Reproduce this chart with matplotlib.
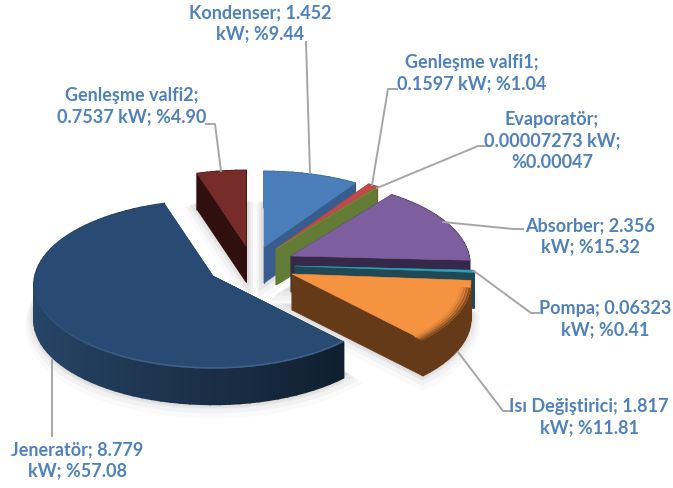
import numpy as np
from matplotlib import pyplot as plt
from matplotlib.colors import to_rgb
from matplotlib.patches import Polygon

names = ["Kondenser", "Genleşme valfi1", "Evaporatör", "Absorber", "Pompa",
         "Isı Değiştirici", "Jeneratör", "Genleşme valfi2"]
kw = [1.452, 0.1597, 0.00007273, 2.356, 0.06323, 1.817, 8.779, 0.7537]
top_colors = ["#4a7ebb", "#be4b48", "#6a8a3a", "#7d5f9f", "#31a0ba", "#f59340", "#294b73", "#772c2a"]
side_colors = ["#365d8d", "#8c3836", "#637c35", "#35284a", "#1f4a55", "#653a19", "#274668", "#300f0e"]

labels = ["Kondenser; 1.452\nkW; %9.44",
          "Genleşme valfi1;\n0.1597 kW; %1.04",
          "Evaporatör;\n0.00007273 kW;\n%0.00047",
          "Absorber; 2.356\nkW; %15.32",
          "Pompa; 0.06323\nkW; %0.41",
          "Isı Değiştirici; 1.817\nkW; %11.81",
          "Jeneratör; 8.779\nkW; %57.08",
          "Genleşme valfi2;\n0.7537 kW; %4.90"]
label_pos = [(260, 23), (472, 73), (552, 141), (590, 236), (605, 319), (589, 417), (77, 460), (132, 106)]
leaders = [[(306, 42), (310, 173)],
           [(397, 89), (388, 89), (372, 185)],
           [(377, 188), (478, 146), (488, 146)],
           [(443, 222), (513, 229), (523, 229)],
           [(474, 271), (531, 313), (539, 313)],
           [(458, 352), (503, 411), (511, 411)],
           [(52, 360), (52, 436)],
           [(206, 124), (215, 124), (221, 171)]]

# apex of each exploded slice, in pixels
apex = [(264, 247), (277, 248), (276, 249), (291, 256), (295, 266), (292, 274), (213, 276), (246, 246)]
RX, RY, PERSP, DEPTH = 178, 84, 0.1, 36

fig = plt.figure(figsize=(6.73, 4.88), dpi=100)
ax = fig.add_axes([0, 0, 1, 1])
ax.set_xlim(0, 673)
ax.set_ylim(488, 0)
ax.axis("off")


def project(c, theta, r=1.0):
    k = 1 - PERSP * r * np.cos(theta)
    return np.column_stack([c[0] + RX * r * np.sin(theta) * k,
                            c[1] - RY * r * np.cos(theta) * k])


def mix(a, b, t):
    a, b = np.array(to_rgb(a)), np.array(to_rgb(b))
    return tuple(a + (b - a) * t)


def face(c, t0, t1):
    th = np.linspace(t0, t1, max(int((t1 - t0) * 60), 2))
    return np.vstack([[c], project(c, th)])


fracs = np.array(kw) / sum(kw)
ends = np.cumsum(fracs) * 2 * np.pi
starts = ends - fracs * 2 * np.pi

# soft shadows under the slices
for i in [0, 3, 5, 6, 7]:
    pts = face(apex[i], starts[i], ends[i])
    for off, a in zip([13, 10, 7, 4], [0.02, 0.03, 0.04, 0.05]):
        ax.add_patch(Polygon(pts + [0, DEPTH + off - 8], fc="k", ec="k", lw=off, alpha=a, zorder=1))

order = [7, 0, 1, 2, 3, 4, 5, 6]
for i in order:
    c, t0, t1 = apex[i], starts[i], ends[i]
    z = 2 + order.index(i)
    pts = face(c, t0, t1)
    # cut faces
    for t in (t0, t1):
        edge = project(c, np.array([t]))[0]
        quad = [c, edge, edge + [0, DEPTH], np.array(c) + [0, DEPTH]]
        fc = side_colors[i]
        if i == 6 and t == t0:
            fc = "#0f1c2b"
        ax.add_patch(Polygon(quad, fc=fc, ec=fc, lw=0.5, zorder=z))
    # outer wall, split up so it can be shaded along the arc
    th = np.linspace(t0, t1, max(int((t1 - t0) * 20), 2))
    rim = project(c, th)
    for j in range(len(th) - 1):
        s = 0.5 + 0.5 * np.sin(th[j])
        col = mix(side_colors[i], "#0f1c2b", s * 1.1) if i == 6 else side_colors[i]
        quad = [rim[j], rim[j + 1], rim[j + 1] + [0, DEPTH], rim[j] + [0, DEPTH]]
        ax.add_patch(Polygon(quad, fc=col, ec=col, lw=1.2, zorder=z))
    col = top_colors[i]
    ax.add_patch(Polygon(pts, fc=col, ec=col, lw=0.4, zorder=z))
    # bevel on the front of the big slices
    if i == 5:
        th2 = np.linspace(np.radians(100), t1, 80)
        for r, t in zip([0.995, 0.98, 0.965, 0.95], [0.8, 0.55, 0.3, 0.1]):
            arc = project(c, th2, r)
            ax.plot(arc[:, 0], arc[:, 1], color=mix(col, side_colors[i], t), lw=1.6, zorder=z)
    if i == 6:
        # thin highlight along the front that fades out towards the left
        th2 = np.radians(np.arange(np.degrees(t0), 262, 4))
        arc = project(c, th2, 0.995)
        for j in range(len(th2) - 1):
            fade = np.clip((np.degrees(th2[j]) - 190) / 70, 0, 1)
            ax.plot(arc[j:j + 2, 0], arc[j:j + 2, 1], color=mix("#3f6288", col, fade), lw=1.1, zorder=z)

for pts in leaders:
    xy = np.array(pts)
    ax.plot(xy[:, 0], xy[:, 1], color="#a6a6a6", lw=1.4, zorder=20)

for txt, (x, y) in zip(labels, label_pos):
    ax.text(x, y, txt, family="Lato", weight="bold", size=13, color="#4f81bd",
            ha="center", va="center", linespacing=1.3, zorder=21)

fig.savefig("out.png", dpi=100)
